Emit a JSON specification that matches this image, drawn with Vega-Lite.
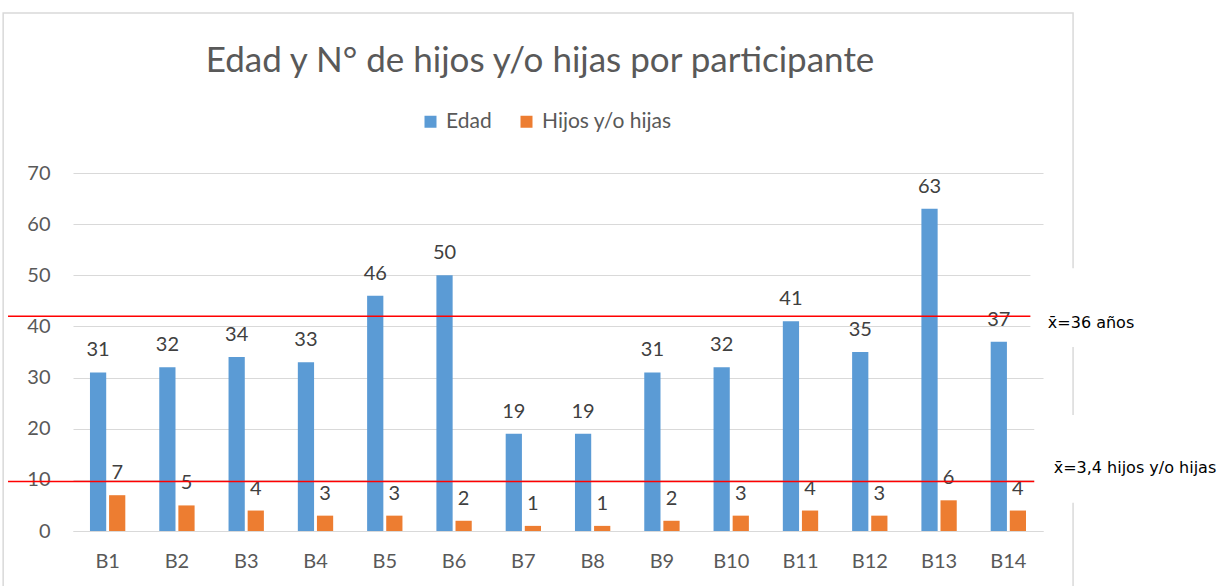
{
  "$schema": "https://vega.github.io/schema/vega-lite/v6.json",
  "width": 970,
  "height": 358,
  "autosize": {"type": "none"},
  "padding": {"left": 73, "top": 173, "right": 182, "bottom": 55},
  "background": "white",
  "config": {
    "view": {"stroke": null},
    "font": "Lato",
    "axisY": {
      "values": [0, 10, 20, 30, 40, 50, 60, 70],
      "labelFontSize": 20,
      "labelColor": "#595959",
      "labelPadding": 23,
      "domain": false,
      "ticks": false,
      "grid": true,
      "gridColor": "#d9d9d9",
      "gridWidth": 1.2
    }
  },
  "title": {
    "text": "Edad y N° de hijos y/o hijas por participante",
    "fontSize": 35,
    "font": "Lato",
    "fontWeight": "normal",
    "color": "#595959",
    "anchor": "middle",
    "offset": 0,
    "dy": 67,
    "dx": -18
  },
  "datasets": {
    "participantes": [
      {"p": "B1", "serie": "Edad", "v": 31}, {"p": "B1", "serie": "Hijos y/o hijas", "v": 7},
      {"p": "B2", "serie": "Edad", "v": 32}, {"p": "B2", "serie": "Hijos y/o hijas", "v": 5},
      {"p": "B3", "serie": "Edad", "v": 34}, {"p": "B3", "serie": "Hijos y/o hijas", "v": 4},
      {"p": "B4", "serie": "Edad", "v": 33}, {"p": "B4", "serie": "Hijos y/o hijas", "v": 3},
      {"p": "B5", "serie": "Edad", "v": 46}, {"p": "B5", "serie": "Hijos y/o hijas", "v": 3},
      {"p": "B6", "serie": "Edad", "v": 50}, {"p": "B6", "serie": "Hijos y/o hijas", "v": 2},
      {"p": "B7", "serie": "Edad", "v": 19}, {"p": "B7", "serie": "Hijos y/o hijas", "v": 1},
      {"p": "B8", "serie": "Edad", "v": 19}, {"p": "B8", "serie": "Hijos y/o hijas", "v": 1},
      {"p": "B9", "serie": "Edad", "v": 31}, {"p": "B9", "serie": "Hijos y/o hijas", "v": 2},
      {"p": "B10", "serie": "Edad", "v": 32}, {"p": "B10", "serie": "Hijos y/o hijas", "v": 3},
      {"p": "B11", "serie": "Edad", "v": 41}, {"p": "B11", "serie": "Hijos y/o hijas", "v": 4},
      {"p": "B12", "serie": "Edad", "v": 35}, {"p": "B12", "serie": "Hijos y/o hijas", "v": 3},
      {"p": "B13", "serie": "Edad", "v": 63}, {"p": "B13", "serie": "Hijos y/o hijas", "v": 6},
      {"p": "B14", "serie": "Edad", "v": 37}, {"p": "B14", "serie": "Hijos y/o hijas", "v": 4}
    ],
    "medias": [
      {"etiqueta": "x̄=36 años", "valor": 42},
      {"etiqueta": "x̄=3,4 hijos y/o hijas", "valor": 9.7}
    ]
  },
  "layer": [
    {
      "data": {"values": [{}]},
      "mark": {"type": "rect", "fillOpacity": 0, "stroke": "#d9d9d9", "strokeWidth": 1.5, "clip": false},
      "encoding": {
        "x": {"datum": -0.072, "type": "quantitative", "scale": {"domain": [0, 1]}, "axis": null},
        "x2": {"datum": 1.031},
        "y": {"datum": 101.3, "type": "quantitative", "scale": {"domain": [0, 70], "nice": false}, "title": null},
        "y2": {"datum": -12}
      }
    },
    {
      "data": {"name": "participantes"},
      "layer": [
        {
          "mark": {"type": "bar"},
          "encoding": {
            "x": {
              "field": "p", "type": "nominal", "sort": null,
              "scale": {"paddingInner": 0.49, "paddingOuter": 0.245},
              "axis": {"title": null, "labelAngle": 0, "labelFontSize": 20, "labelColor": "#595959", "labelPadding": 20, "ticks": false, "domain": true, "domainColor": "#d9d9d9", "domainWidth": 1.2}
            },
            "xOffset": {"field": "serie", "type": "nominal", "scale": {"paddingInner": 0.15}},
            "y": {"field": "v", "type": "quantitative", "scale": {"domain": [0, 70], "nice": false}, "title": null},
            "color": {
              "field": "serie", "type": "nominal",
              "scale": {"domain": ["Edad", "Hijos y/o hijas"], "range": ["#5B9BD5", "#ED7D31"]},
              "legend": {
                "title": null, "orient": "none", "direction": "horizontal",
                "legendX": 347, "legendY": -62,
                "symbolType": "square", "symbolSize": 144, "symbolStrokeWidth": 0,
                "labelFontSize": 21, "labelColor": "#595959", "labelOffset": 5, "columnPadding": 24
              }
            }
          }
        },
        {
          "mark": {"type": "text", "baseline": "alphabetic", "dy": -16, "fontSize": 20, "color": "#404040"},
          "encoding": {
            "x": {"field": "p", "type": "nominal", "sort": null},
            "xOffset": {"field": "serie", "type": "nominal"},
            "y": {"field": "v", "type": "quantitative", "scale": {"domain": [0, 70], "nice": false}, "title": null},
            "text": {"field": "v", "type": "quantitative"}
          }
        }
      ]
    },
    {
      "data": {"name": "medias"},
      "mark": {"type": "rule", "color": "#FF0000", "strokeWidth": 1.5, "clip": false},
      "encoding": {
        "x": {"datum": -0.067, "type": "quantitative", "scale": {"domain": [0, 1]}, "axis": null},
        "x2": {"datum": 1.0},
        "y": {"field": "valor", "type": "quantitative", "scale": {"domain": [0, 70], "nice": false}, "title": null}
      }
    },
    {
      "data": {"values": [{}]},
      "mark": {"type": "rect", "fill": "white", "clip": false},
      "encoding": {
        "x": {"datum": 0.987, "type": "quantitative", "scale": {"domain": [0, 1]}, "axis": null},
        "x2": {"datum": 1.2},
        "y": {"datum": 51.4, "type": "quantitative", "scale": {"domain": [0, 70], "nice": false}, "title": null},
        "y2": {"datum": 36.0}
      }
    },
    {
      "data": {"values": [{}]},
      "mark": {"type": "rect", "fill": "white", "clip": false},
      "encoding": {
        "x": {"datum": 0.991, "type": "quantitative", "scale": {"domain": [0, 1]}, "axis": null},
        "x2": {"datum": 1.2},
        "y": {"datum": 22.7, "type": "quantitative", "scale": {"domain": [0, 70], "nice": false}, "title": null},
        "y2": {"datum": 5.5}
      }
    },
    {
      "data": {"name": "medias"},
      "transform": [{"filter": "datum.valor > 20"}],
      "mark": {"type": "text", "align": "left", "baseline": "middle", "dy": 7, "font": "DejaVu Sans", "fontSize": 16, "color": "#000000", "clip": false},
      "encoding": {
        "x": {"datum": 1.005, "type": "quantitative", "scale": {"domain": [0, 1]}, "axis": null},
        "y": {"field": "valor", "type": "quantitative", "scale": {"domain": [0, 70], "nice": false}, "title": null},
        "text": {"field": "etiqueta"}
      }
    },
    {
      "data": {"name": "medias"},
      "transform": [{"filter": "datum.valor < 20"}],
      "mark": {"type": "text", "align": "left", "baseline": "middle", "dy": -13, "font": "DejaVu Sans", "fontSize": 16, "color": "#000000", "clip": false},
      "encoding": {
        "x": {"datum": 1.011, "type": "quantitative", "scale": {"domain": [0, 1]}, "axis": null},
        "y": {"field": "valor", "type": "quantitative", "scale": {"domain": [0, 70], "nice": false}, "title": null},
        "text": {"field": "etiqueta"}
      }
    }
  ],
  "resolve": {"scale": {"x": "independent"}}
}
